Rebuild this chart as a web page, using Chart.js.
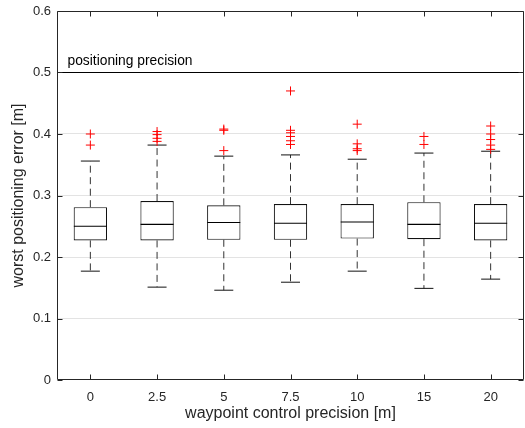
<!DOCTYPE html>
<html>
<head>
<meta charset="utf-8">
<script src="https://cdn.jsdelivr.net/npm/chart.js@4"></script>
<style>
  html,body{margin:0;padding:0;background:#fff;}
  #wrap{width:525px;height:428px;position:relative;}
</style>
</head>
<body>
<div id="wrap"><canvas id="chart" width="525" height="428"></canvas></div>
<script>
/* ---------------- data ---------------- */
const categories  = ['0','2.5','5','7.5','10','15','20'];
const whiskerLow  = [0.177, 0.151, 0.146, 0.159, 0.177, 0.149, 0.164];
const q1          = [0.227, 0.227, 0.228, 0.228, 0.230, 0.229, 0.227];
const median      = [0.250, 0.253, 0.256, 0.255, 0.257, 0.253, 0.255];
const q3          = [0.281, 0.291, 0.284, 0.286, 0.286, 0.289, 0.286];
const whiskerHigh = [0.356, 0.382, 0.364, 0.366, 0.359, 0.369, 0.372];
const outliers    = [
  [0.400, 0.382],
  [0.404, 0.399, 0.393, 0.388],
  [0.408, 0.406, 0.373],
  [0.470, 0.406, 0.402, 0.396, 0.389, 0.383],
  [0.416, 0.384, 0.376, 0.373],
  [0.396, 0.383],
  [0.413, 0.400, 0.391, 0.382, 0.375]
];
const yTicks = [0, 0.1, 0.2, 0.3, 0.4, 0.5, 0.6];
const precisionLimit = 0.5;
const precisionLabel = 'positioning precision';

/* ---------------- helpers ---------------- */
const FONT = "'Liberation Sans', Arial, sans-serif";
const AXIS = '#262626';
const NONE = 'rgba(0,0,0,0)';

// whisker segments, broken with nulls
const whiskerPts = [];
categories.forEach((c,i)=>{
  whiskerPts.push({x:c,y:q3[i]},{x:c,y:whiskerHigh[i]},{x:c,y:null});
  whiskerPts.push({x:c,y:q1[i]},{x:c,y:whiskerLow[i]},{x:c,y:null});
});
const outlierPts = [];
outliers.forEach((arr,i)=>arr.forEach(v=>outlierPts.push({x:categories[i],y:v})));

// marker-only dataset (no connecting line)
const marks = (label,data,style,r,color,w)=>({
  type:'line', label, data, showLine:false, borderColor:NONE, backgroundColor:NONE,
  pointStyle:style, pointRadius:r, pointBorderWidth:w, pointBorderColor:color,
  pointBackgroundColor:NONE
});

/* frame, inner ticks, precision line */
const matlabFrame = {
  id:'matlabFrame',
  afterDatasetsDraw(chart){
    const {ctx, chartArea:a, scales:{x,y}} = chart;
    ctx.save();
    // precision line + label
    const py = Math.round(y.getPixelForValue(precisionLimit)) + 0.5;
    ctx.strokeStyle = '#000'; ctx.lineWidth = 1;
    ctx.beginPath(); ctx.moveTo(a.left, py); ctx.lineTo(a.right, py); ctx.stroke();
    ctx.fillStyle = '#000';
    ctx.font = '13.8px ' + FONT;
    ctx.textBaseline = 'alphabetic';
    ctx.fillText(precisionLabel, a.left + 10.5, py - 7.5);

    // box + ticks
    ctx.strokeStyle = AXIS;
    const L = Math.round(a.left)+0.5, R = Math.round(a.right)-0.5;
    const T = Math.round(a.top)+0.5,  B = Math.round(a.bottom)-0.5;
    ctx.beginPath();
    ctx.moveTo(L,T); ctx.lineTo(R,T); ctx.lineTo(R,B); ctx.lineTo(L,B); ctx.closePath();
    categories.forEach((c,i)=>{
      const px = Math.round(x.getPixelForValue(i)) + 0.5;
      ctx.moveTo(px,B); ctx.lineTo(px,B-5);
      ctx.moveTo(px,T); ctx.lineTo(px,T+5);
    });
    yTicks.forEach(v=>{
      const p = Math.round(y.getPixelForValue(v)) + 0.5;
      ctx.moveTo(L,p); ctx.lineTo(L+5,p);
      ctx.moveTo(R,p); ctx.lineTo(R-5,p);
    });
    ctx.stroke();
    ctx.restore();
  }
};

/* ---------------- chart ---------------- */
new Chart(document.getElementById('chart'),{
  type:'bar',
  data:{
    labels:categories,
    datasets:[
      marks('outliers', outlierPts, 'cross', 4.5, '#ff0000', 1),
      marks('median', median, 'line', 16.5, '#000', 1.1),
      marks('upper cap', whiskerHigh, 'line', 9.5, '#111', 1),
      marks('lower cap', whiskerLow, 'line', 9.5, '#111', 1),
      {
        type:'line', label:'whiskers', data:whiskerPts, spanGaps:false,
        borderColor:'#333', borderWidth:1, borderDash:[7,4.5], pointRadius:0
      },
      {
        label:'box', data:q1.map((v,i)=>[v,q3[i]]),
        backgroundColor:'#fff', borderColor:'#111', borderWidth:1.1,
        borderSkipped:false, barPercentage:0.5, categoryPercentage:1, grouped:false
      }
    ]
  },
  options:{
    responsive:false, animation:false,
    layout:{autoPadding:false, padding:{top:11,right:1,left:0,bottom:0}},
    plugins:{legend:{display:false}, tooltip:{enabled:false}},
    scales:{
      x:{
        offset:true,
        grid:{display:false, drawTicks:false},
        border:{display:false},
        ticks:{color:AXIS, padding:10, font:{family:FONT,size:13}, maxRotation:0},
        title:{display:true, text:'waypoint control precision [m]', color:AXIS,
               font:{family:FONT,size:16}, padding:{top:0,bottom:5}},
        afterFit(s){ s.height = 48; s.paddingLeft = 0; s.paddingRight = 0; }
      },
      y:{
        min:0, max:0.6,
        afterBuildTicks(s){ s.ticks = yTicks.map(v=>({value:v})); },
        grid:{color:ctx=>(ctx.tick && (ctx.tick.value===0||ctx.tick.value===0.6))?NONE:'#e3e3e3',
              drawTicks:false, lineWidth:1},
        border:{display:false},
        ticks:{color:AXIS, padding:6, font:{family:FONT,size:13},
               callback:v=>String(Math.round(v*10)/10)},
        title:{display:true, text:'worst positioning error [m]', color:AXIS,
               font:{family:FONT,size:16}, padding:{top:8.5,bottom:0}},
        afterFit(s){ s.width = 57; s.paddingTop = 0; s.paddingBottom = 0; }
      }
    }
  },
  plugins:[matlabFrame]
});
</script>
</body>
</html>
